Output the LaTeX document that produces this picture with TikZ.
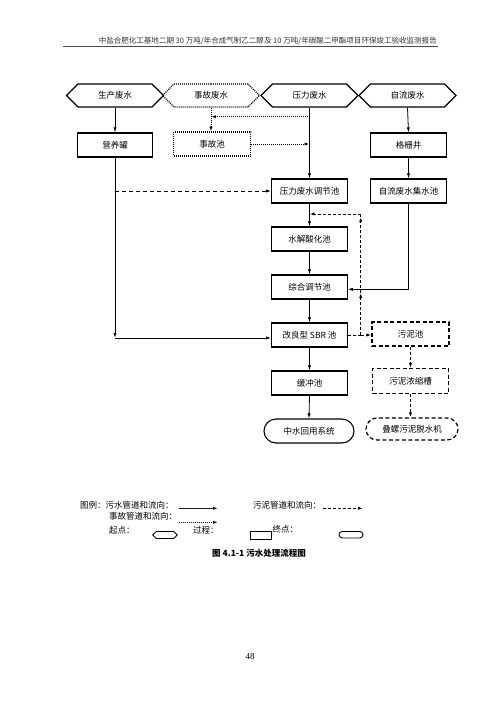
\documentclass[tikz,border=0pt]{standalone}
\usepackage{fontspec}
\usepackage{graphicx}
\setmainfont{Liberation Serif}
\newfontfamily\cjk{Noto Sans CJK SC}
\usetikzlibrary{arrows.meta,shapes.symbols,shapes.misc}
\definecolor{ink}{RGB}{30,25,50}
\begin{document}
\begin{tikzpicture}[x=1pt,y=-1pt,
  font=\cjk\fontsize{8.5}{10}\selectfont,
  arr/.style={-{Latex[length=5pt,width=3.2pt]}},
  ln/.style={line width=0.8pt},
  dotl/.style={line width=1pt,dash pattern=on 1pt off 1pt},
  dshl/.style={line width=1pt,dash pattern=on 3pt off 2pt},
  proc/.style={draw,line width=1.1pt,minimum width=75.6pt,minimum height=24pt,inner sep=0pt},
  hexa/.style={draw,line width=1.1pt,shape=signal,signal to=east and west,signal pointer angle=90,minimum width=97pt,minimum height=23pt,inner sep=0pt},
  stad/.style={draw,line width=1.1pt,shape=rounded rectangle,minimum height=24pt,inner sep=0pt},
  dotbox/.style={line width=1.2pt,dash pattern=on 1pt off 1pt},
  dashbox/.style={line width=1.2pt,dash pattern=on 4pt off 2.5pt},
  lgd/.style={anchor=west,inner sep=0pt},
  lgarr/.style={line width=1.3pt,draw=ink,fill=ink,-{Latex[length=5pt,width=3.4pt]}}
]
\useasboundingbox (0,0) rectangle (500,707);

% legend
\node[lgd] (l1) at (80,505) {图例：污水管道和流向：};
\coordinate (lgA) at (179,508.3);
\coordinate (lgB) at (218,508.3);
\draw[lgarr] (lgA) -- (lgB);
\node[lgd] (l2) at (253,505) {污泥管道和流向：};
\coordinate (lgC) at (323,508.3);
\coordinate (lgD) at (363,508.3);
\draw[line width=1.2pt,dash pattern=on 3pt off 2pt,arr] (lgC) -- (lgD);
\node[lgd] (l3) at (109,516) {事故管道和流向：};
\coordinate (lgE) at (179,522.3);
\coordinate (lgF) at (218,522.3);
\draw[lgarr,dash pattern=on 1pt off 1pt] (lgE) -- (lgF);
\node[lgd] (l4) at (109,530.5) {起点：};
\node[draw,line width=0.9pt,shape=signal,signal to=east and west,signal pointer angle=90,minimum width=24.6pt,minimum height=7pt,inner sep=0pt] (lh) at (165,535) {};
\node[lgd] (l5) at (193,530) {过程：};
\node[draw,line width=0.9pt,minimum width=21pt,minimum height=7.3pt,inner sep=0pt] (lr) at (260.5,535.3) {};
\node[lgd] (l6) at (272.3,529.3) {终点：};
\node[draw,line width=0.9pt,shape=rounded rectangle,minimum width=24pt,minimum height=6.5pt,inner sep=0pt] (ls) at (351,534.7) {};
\node[font=\cjk\bfseries\fontsize{8.5}{10}\selectfont] (cap) at (259,553) {图 4.1-1 污水处理流程图};

% header
\node[anchor=east,inner sep=0pt,text=black!80] (hdr) at (437,41) {\resizebox{338pt}{!}{\cjk 中盐合肥化工基地二期 30 万吨/年合成气制乙二醇及 10 万吨/年碳酸二甲酯项目环保竣工验收监测报告}};
\coordinate (hl1) at (63,46.5);
\coordinate (hl2) at (438,46.5);
\draw[line width=1.6pt,black!70] (hl1) -- (hl2);

% start hexagons
\node[hexa] (h1) at (115,95.5) {生产废水};
\node[hexa,dotbox] (h2) at (211,95.5) {事故废水};
\node[hexa] (h3) at (309.5,95.5) {压力废水};
\node[hexa] (h4) at (407.5,95.5) {自流废水};

% process boxes
\node[proc] (b1) at (115,145) {营养罐};
\node[proc,dotbox,minimum width=77pt] (b2) at (212,144) {事故池};
\node[proc] (b3) at (408.5,145) {格栅井};
\node[proc] (b4) at (309.5,191) {压力废水调节池};
\node[proc] (b5) at (408.5,191) {自流废水集水池};
\node[proc] (b6) at (309.5,239) {水解酸化池};
\node[proc] (b7) at (309.5,287) {综合调节池};
\node[proc] (b8) at (309.5,335) {改良型 SBR 池};
\node[proc] (b9) at (309.5,383) {缓冲池};
\node[stad,minimum width=90pt] (e1) at (309,431) {中水回用系统};
\node[proc,dashbox,minimum width=77pt] (s1) at (410.5,334) {污泥池};
\node[proc,dashbox,minimum width=76pt,minimum height=25pt] (s2) at (410.5,381) {污泥浓缩槽};
\node[stad,dashbox,minimum width=92pt,minimum height=22pt] (e2) at (412,429) {叠螺污泥脱水机};

% solid connectors
\draw[ln,arr] (h1.south) -- (b1.north);
\coordinate (c1) at (115,338);
\draw[ln,arr] (b1.south) -- (c1);
\draw[ln,arr] (c1) -- (b8.west |- c1);
\draw[ln,arr] (h3.south) -- (b4.north);
\draw[ln,arr] (h4.south) -- (b3.north);
\draw[ln,arr] (b3.south) -- (b5.north);
\draw[ln,arr] (b4.south) -- (b6.north);
\draw[ln,arr] (b6.south) -- (b7.north);
\draw[ln,arr] (b7.south) -- (b8.north);
\draw[ln,arr] (b8.south) -- (b9.north);
\draw[ln,arr] (b9.south) -- (e1.north);
\coordinate (c3) at (408.5,289.3);
\draw[ln] (b5.south) -- (c3);
\draw[ln,arr] (c3) -- (b7.east |- c3);

% dashed from nutrient line to pressure buffer
\coordinate (c2) at (115,191);
\draw[line width=1pt,dash pattern=on 4pt off 3pt,arr] (c2) -- (b4.west);

% accident (dotted) connectors
\draw[dotl,arr] (h2.south) -- (h2.south |- b2.north);
\coordinate (d1) at (309.5,116.7);
\draw[dotl,arr] (d1) -- (h2.south |- d1);
\coordinate (d2) at (309.5,144);
\draw[dotl,arr] (b2.east) -- (d2);

% sludge (dashed) connectors
\coordinate (j1) at (360.7,335);
\coordinate (j2) at (360.7,293);
\coordinate (j3) at (360.7,217);
\coordinate (j4) at (360.7,214);
\draw[dshl] (b8.east |- j1) -- (j1);
\draw[dshl,arr] (j1) -- (s1.west |- j1);
\draw[dshl,arr] (j1) -- (j2);
\draw[dshl,arr] (j2) -- (j3);
\draw[dshl] (j3) -- (j4);
\draw[dshl,arr] (j4) -- (b4.south |- j4);
\draw[dshl,arr] (s1.south) -- (s1.south |- s2.north);
\draw[dshl,arr] (s2.south) -- (s2.south |- e2.north);

% page number
\node[font=\fontsize{9}{10}\selectfont] (pg) at (250,657) {48};
\end{tikzpicture}
\end{document}
